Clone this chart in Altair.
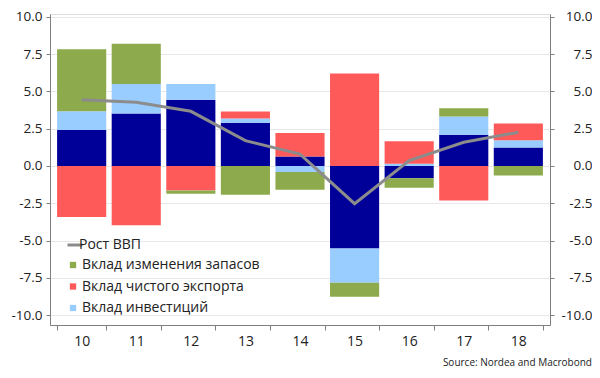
import altair as alt
import pandas as pd

years = ["10", "11", "12", "13", "14", "15", "16", "17", "18"]
consumption = [2.42, 3.53, 4.45, 2.89, 0.64, -5.54, -0.82, 2.09, 1.24]
investment = [1.25, 1.97, 1.05, 0.29, -0.41, -2.30, 0.15, 1.24, 0.49]
net_export = [-3.42, -3.98, -1.64, 0.47, 1.58, 6.20, 1.51, -2.31, 1.13]
inventories = [4.17, 2.71, -0.22, -1.93, -1.19, -0.94, -0.64, 0.54, -0.64]
gdp = [4.45, 4.27, 3.67, 1.70, 0.80, -2.53, 0.37, 1.59, 2.26]

s_cons = "Вклад потребления"
s_inv = "Вклад инвестиций"
s_nx = "Вклад чистого экспорта"
s_stock = "Вклад изменения запасов"
s_gdp = "Рост ВВП"

rows = []
for i, y in enumerate(years):
    rows.append({"year": y, "series": s_cons, "value": consumption[i], "ord": 0})
    rows.append({"year": y, "series": s_inv, "value": investment[i], "ord": 1})
    rows.append({"year": y, "series": s_nx, "value": net_export[i], "ord": 2})
    rows.append({"year": y, "series": s_stock, "value": inventories[i], "ord": 3})
bars_df = pd.DataFrame(rows)
line_df = pd.DataFrame({"year": years, "value": gdp, "series": [s_gdp] * len(years)})

FONT = "Open Sans"
ydom = [-10.67, 10.20]
yticks = [-10, -7.5, -5, -2.5, 0, 2.5, 5, 7.5, 10]
label_expr = "(datum.value < 0 ? '-' : '') + format(abs(datum.value), '.1f')"
AX = 13.5

xenc = alt.X(
    "year:N",
    sort=years,
    title=None,
    scale=alt.Scale(paddingInner=0.1, paddingOuter=0.13),
    axis=alt.Axis(
        labelAngle=0, tickBand="extent", domainColor="#7f7f7f", tickColor="#7f7f7f",
        tickSize=5, labelPadding=4, labelFontSize=14, labelFont=FONT, labelColor="#222222",
        grid=False,
    ),
)

bars = alt.Chart(bars_df).mark_bar().encode(
    x=xenc,
    y=alt.Y(
        "value:Q",
        stack="zero",
        title=None,
        scale=alt.Scale(domain=ydom, nice=False, zero=False),
        axis=alt.Axis(
            orient="left", values=yticks, labelExpr=label_expr, grid=True, gridColor="#e8e8e8",
            domainColor="#7f7f7f", tickColor="#7f7f7f", tickSize=4, labelPadding=4,
            labelFontSize=AX, labelFont=FONT, labelColor="#222222",
        ),
    ),
    color=alt.Color(
        "series:N",
        scale=alt.Scale(
            domain=[s_stock, s_nx, s_inv, s_cons],
            range=["#8dab4c", "#ff5a5a", "#99ccff", "#000099"],
        ),
        legend=alt.Legend(
            values=[s_stock, s_nx, s_inv], title=None, orient="none", legendX=16, legendY=244,
            symbolType="square", symbolSize=40, symbolStrokeWidth=0, labelOffset=2,
            labelFontSize=14, labelFont=FONT, labelColor="#222222", rowPadding=7.5,
            labelLimit=400,
        ),
    ),
    order=alt.Order("ord:Q"),
)

line = alt.Chart(line_df).mark_line(strokeWidth=3).encode(
    x=xenc,
    y=alt.Y(
        "value:Q",
        title=None,
        scale=alt.Scale(domain=ydom, nice=False, zero=False),
        axis=alt.Axis(
            orient="right", values=yticks, labelExpr=label_expr, grid=False,
            domainColor="#7f7f7f", tickColor="#7f7f7f", tickSize=4, labelPadding=38,
            labelAlign="right", labelFontSize=AX, labelFont=FONT, labelColor="#222222",
        ),
    ),
    stroke=alt.Stroke(
        "series:N",
        scale=alt.Scale(domain=[s_gdp], range=["#8c8c8c"]),
        legend=alt.Legend(
            title=None, orient="none", legendX=16, legendY=222, symbolType="stroke",
            symbolSize=225, symbolStrokeWidth=3, labelOffset={"expr": "-5"},
            labelFontSize=14, labelFont=FONT, labelColor="#222222", labelLimit=400,
        ),
    ),
)

chart = (
    alt.layer(bars, line)
    .resolve_scale(y="shared")
    .resolve_axis(y="independent")
    .resolve_legend(color="independent", stroke="independent")
    .properties(
        width=500,
        height=311,
        autosize="none",
        padding={"left": 42, "top": 6, "right": 42, "bottom": 50},
        title=alt.TitleParams(
            text="Source: Nordea and Macrobond", orient="bottom", anchor="end",
            fontSize=10, font=FONT, fontWeight="normal", color="#222222", offset=10,
        ),
    )
    .configure_view(stroke=None)
    .configure(background="white")
)

chart.save("out.html", embed_options={"renderer": "svg", "actions": False})
